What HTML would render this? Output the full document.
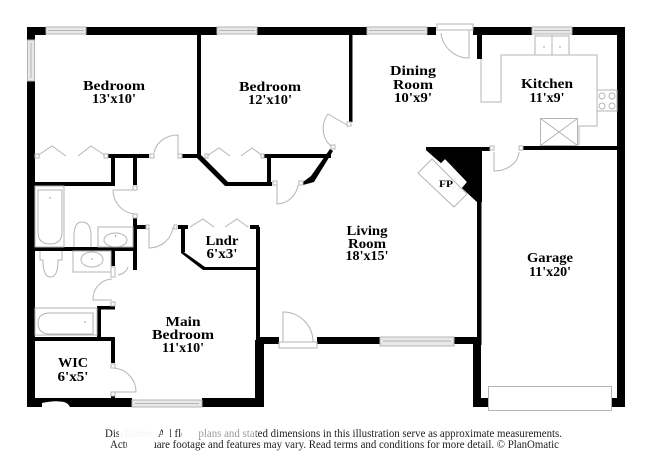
<!DOCTYPE html>
<html><head><meta charset="utf-8"><style>
html,body{margin:0;padding:0;background:#fff}
svg{display:block;filter:blur(.3px)}
text{font-family:"Liberation Serif",serif;font-weight:bold;fill:#000;font-size:14px;text-anchor:middle}
.g{fill:none;stroke:#b5b5b5;stroke-width:1}
.w{fill:#fff;stroke:#b5b5b5;stroke-width:1}
.win{fill:#e8e8e8;stroke:#b5b5b5;stroke-width:1}
.f{font-weight:normal;font-size:11.5px;fill:#222;text-anchor:start}
</style></head><body>
<svg width="650" height="473" viewBox="0 0 650 473" xmlns="http://www.w3.org/2000/svg">
<rect width="650" height="473" fill="#fff"/>
<!-- walls -->
<g fill="#000">
<rect x="27" y="27" width="19" height="8"/><rect x="86" y="27" width="131" height="8"/><rect x="257" y="27" width="110" height="8"/>
<rect x="427" y="27" width="9" height="8"/><rect x="473" y="27" width="59" height="8"/><rect x="572" y="27" width="53" height="8"/>
<rect x="27" y="27" width="8" height="13"/><rect x="27" y="81" width="8" height="326"/>
<rect x="617" y="27" width="8" height="380"/>
<rect x="27" y="398" width="105" height="9"/><rect x="202" y="398" width="62" height="9"/>
<rect x="260" y="337" width="19" height="7"/><rect x="317" y="337" width="63" height="7"/><rect x="454" y="337" width="27" height="7"/>
<rect x="256" y="227" width="4" height="175"/><rect x="255" y="340" width="9" height="67"/>
<rect x="477" y="150" width="4" height="200"/><rect x="473" y="338" width="8" height="69"/><rect x="473" y="398" width="16" height="9"/><rect x="612" y="398" width="13" height="9"/>
<rect x="197" y="35" width="4" height="122"/>
<rect x="107" y="154" width="42" height="4"/><rect x="182" y="154" width="17" height="4"/>
<rect x="111" y="156" width="4" height="30"/><rect x="35" y="182" width="80" height="4"/>
<rect x="133" y="156" width="4" height="29"/>
<rect x="133" y="218" width="4" height="52"/><rect x="133" y="225" width="13" height="4"/>
<rect x="35" y="247" width="102" height="4"/><rect x="111" y="249" width="4" height="17"/>
<rect x="97" y="306" width="4" height="33"/><rect x="97" y="306" width="18" height="3.5"/>
<rect x="35" y="337" width="80" height="4"/><rect x="111" y="337" width="4" height="26"/><rect x="111" y="396" width="4" height="4"/>
<polygon points="197,155 201,155 228,182 272,182 272,186 225,186 197,158"/>
<rect x="264" y="154" width="67" height="4"/><rect x="267" y="156" width="4" height="30"/>
<polygon points="330,149 333,151 314,182 303,185 303,182 311,176"/>
<rect x="349" y="35" width="3.5" height="87"/>
<rect x="178" y="225" width="10" height="4"/><rect x="181" y="225" width="4" height="27"/>
<polygon points="181,250 205,267 256,267 256,270 203,270 181,253"/>
<rect x="250" y="225" width="9" height="4"/>
<rect x="477" y="35" width="5" height="24"/>
<rect x="523" y="146" width="94" height="4"/>
<polygon points="426,147 490,147 490,151 482,151 482,202 477,202 462,188 467,182 445,159 441,163 435,158 426,150"/>
<rect x="477" y="200" width="4.5" height="145"/>
</g>
<!-- notch in bottom wall -->
<path d="M42,407 L42,403 Q55,400 64,402 Q68,403 70,407 Z" fill="#fff"/>
<!-- windows -->
<rect class="win" x="46" y="27" width="40" height="7"/><path class="g" d="M48,30.500 H84"/>
<rect class="win" x="27.500" y="40" width="7" height="41"/><path class="g" d="M31,43 V78"/>
<rect class="win" x="217" y="27" width="40" height="7"/><path class="g" d="M219,30.500 H255"/>
<rect class="win" x="367" y="27" width="60" height="7"/><path class="g" d="M369,30.500 H425"/>
<rect class="win" x="532" y="27" width="40" height="7"/><path class="g" d="M534,30.500 H570"/>
<rect class="win" x="380" y="337" width="74" height="9"/><path class="g" d="M383,341 H451"/>
<rect class="win" x="132" y="400" width="70" height="7"/><path class="g" d="M135,403.500 H199"/>
<!-- top door -->
<rect class="w" x="437" y="24" width="36" height="6"/>
<path class="g" d="M469,30 V58 A28,28 0 0 1 441,33"/>
<!-- bifolds -->
<polyline class="g" points="37,156 52,146 66,156"/><polyline class="g" points="78,156 91,146 106,156"/>
<polyline class="g" points="207,156 219,148 230,156"/><polyline class="g" points="241,156 252,148 263,156"/>
<polyline class="g" points="190,227 203,219 214,227"/><polyline class="g" points="225,227 237,219 248,227"/>
<!-- doors -->
<path class="g" d="M178,156 V135 A24,21 0 0 0 154,153"/>
<path class="g" d="M135,190 H113 A24,24 0 0 0 135,214"/>
<path class="g" d="M149,226 V248 A24,24 0 0 0 173,227"/>
<path class="g" d="M347,125 L328,114 A24,24 0 0 0 332,147"/>
<path class="g" d="M277,185 V204 A22,22 0 0 0 298,185"/>
<path class="g" d="M112,300 H93 A20,20 0 0 1 112,279"/>
<path class="g" d="M118,275 A12,12 0 0 0 128,267"/>
<path class="g" d="M113,368 A24,24 0 0 1 136,392 H113"/>
<path class="g" d="M283,342 V312 A30,30 0 0 1 313,342"/>
<rect class="w" x="279" y="342" width="38" height="6"/>
<path class="g" d="M494,152 V171 A25,20 0 0 0 519,152"/>
<!-- jambs -->
<g class="w"><rect class="w" x="150" y="154" width="4" height="4"/><rect class="w" x="178" y="154" width="4" height="4"/><rect class="w" x="133" y="186" width="4" height="4"/><rect class="w" x="133" y="214" width="4" height="4"/><rect class="w" x="111" y="267" width="4" height="10"/><rect class="w" x="111" y="302" width="4" height="4"/><rect class="w" x="111" y="364" width="4" height="4"/><rect class="w" x="111" y="392" width="4" height="4"/><rect class="w" x="146" y="225" width="3" height="4"/><rect class="w" x="174" y="225" width="3" height="4"/><rect class="w" x="273" y="181" width="4" height="4"/><rect class="w" x="299" y="181" width="4" height="4"/><rect class="w" x="490" y="146" width="4" height="4"/><rect class="w" x="519" y="146" width="4" height="4"/><rect class="w" x="347" y="122" width="4" height="4"/><rect class="w" x="331" y="145" width="4" height="4"/><rect class="w" x="35" y="154" width="4" height="4"/><rect class="w" x="104" y="154" width="4" height="4"/><rect class="w" x="205" y="154" width="3" height="4"/><rect class="w" x="261" y="154" width="3" height="4"/></g>
<!-- bath fixtures -->
<rect class="g" x="35" y="186" width="29" height="61"/>
<path class="g" d="M38,190 H62 V232 Q62,244 50,244 Q38,244 38,232 Z"/>
<circle cx="50" cy="198" r=".7" fill="#888"/>
<path class="g" d="M74,247 V236 Q74,222 82,222 Q91,222 91,236 V247"/>
<rect class="g" x="98" y="227" width="35" height="20"/>
<ellipse class="g" cx="115.500" cy="240" rx="11.500" ry="7"/>
<circle cx="115.500" cy="236" r=".7" fill="#888"/>
<path class="g" d="M40,251 V260 H43 Q43,277 50.500,277 Q58,277 58,260 H62 V251"/>
<rect class="g" x="73" y="251" width="38" height="21"/>
<ellipse class="g" cx="92" cy="259.500" rx="11" ry="7.500"/>
<circle cx="92" cy="259" r=".7" fill="#888"/>
<rect class="g" x="35" y="308" width="62" height="27"/>
<path class="g" d="M93,313 H50 Q38,313 38,323 Q38,334 50,334 H93 Z"/>
<circle cx="85" cy="322" r=".7" fill="#888"/>
<!-- kitchen -->
<polyline class="g" points="481,59 481,102 501,102 501,55 597,55 597,126 579,126 579,145"/>
<rect class="g" x="535" y="36" width="17" height="19"/><rect class="g" x="552" y="36" width="17" height="19"/>
<circle cx="544" cy="47" r=".7" fill="#888"/><circle cx="560" cy="47" r=".7" fill="#888"/>
<rect class="g" x="597" y="90" width="20" height="21"/>
<circle class="g" cx="602" cy="96" r="3"/><circle class="g" cx="612" cy="96" r="3"/><circle class="g" cx="602" cy="106" r="3"/><circle class="g" cx="612" cy="106" r="3"/>
<rect class="g" x="540.500" y="118.500" width="37" height="27"/>
<path class="g" d="M540.500,118.500 L577.500,145.500 M577.500,118.500 L540.500,145.500"/>
<!-- fireplace -->
<polygon class="w" points="418,173 432,159 467,194 454,207"/>
<polygon points="426,147 426,150 435,158 441,163 445,159 467,182 462,188 477,202 482,202 482,147" fill="#000"/>
<!-- garage door -->
<rect class="w" x="488.500" y="386.500" width="123" height="24"/>
<!-- labels -->
<text x="114" y="90" textLength="62" lengthAdjust="spacingAndGlyphs">Bedroom</text>
<text x="114" y="103" textLength="44" lengthAdjust="spacingAndGlyphs">13'x10'</text>
<text x="270" y="91" textLength="62" lengthAdjust="spacingAndGlyphs">Bedroom</text>
<text x="270" y="104" textLength="44" lengthAdjust="spacingAndGlyphs">12'x10'</text>
<text x="413" y="75" textLength="46" lengthAdjust="spacingAndGlyphs">Dining</text>
<text x="413" y="89" textLength="40" lengthAdjust="spacingAndGlyphs">Room</text>
<text x="413" y="102" textLength="38" lengthAdjust="spacingAndGlyphs">10'x9'</text>
<text x="547" y="88" textLength="52" lengthAdjust="spacingAndGlyphs">Kitchen</text>
<text x="547" y="102" textLength="35" lengthAdjust="spacingAndGlyphs">11'x9'</text>
<text x="446" y="187" style="font-size:9px" textLength="14" lengthAdjust="spacingAndGlyphs">FP</text>
<text x="367" y="235" textLength="41" lengthAdjust="spacingAndGlyphs">Living</text>
<text x="367" y="248" textLength="38" lengthAdjust="spacingAndGlyphs">Room</text>
<text x="367" y="260" textLength="43" lengthAdjust="spacingAndGlyphs">18'x15'</text>
<text x="550" y="262" textLength="46" lengthAdjust="spacingAndGlyphs">Garage</text>
<text x="550" y="276" textLength="42" lengthAdjust="spacingAndGlyphs">11'x20'</text>
<text x="222" y="245" textLength="33" lengthAdjust="spacingAndGlyphs">Lndr</text>
<text x="222" y="258" textLength="31" lengthAdjust="spacingAndGlyphs">6'x3'</text>
<text x="183" y="326" textLength="35" lengthAdjust="spacingAndGlyphs">Main</text>
<text x="183" y="339" textLength="62" lengthAdjust="spacingAndGlyphs">Bedroom</text>
<text x="183" y="352" textLength="42" lengthAdjust="spacingAndGlyphs">11'x10'</text>
<text x="73" y="367" textLength="30" lengthAdjust="spacingAndGlyphs">WIC</text>
<text x="73" y="381" textLength="31" lengthAdjust="spacingAndGlyphs">6'x5'</text>
<!-- footer -->
<text class="f" x="105" y="437" textLength="457" lengthAdjust="spacingAndGlyphs">Disclaimer: All floor plans and stated dimensions in this illustration serve as approximate measurements.</text>
<text class="f" x="110" y="448" textLength="449" lengthAdjust="spacingAndGlyphs">Actual square footage and features may vary. Read terms and conditions for more detail. © PlanOmatic</text>
<!-- erased patches -->
<rect x="119" y="427" width="39" height="12" fill="#fff" fill-opacity=".95"/>
<rect x="163" y="427" width="7" height="12" fill="#fff"/>
<rect x="182" y="427" width="16" height="12" fill="#fff"/>
<rect x="198" y="427" width="58" height="12" fill="#fff" fill-opacity=".55"/>
<rect x="127" y="439" width="27" height="13" fill="#fff"/>
</svg>
</body></html>
